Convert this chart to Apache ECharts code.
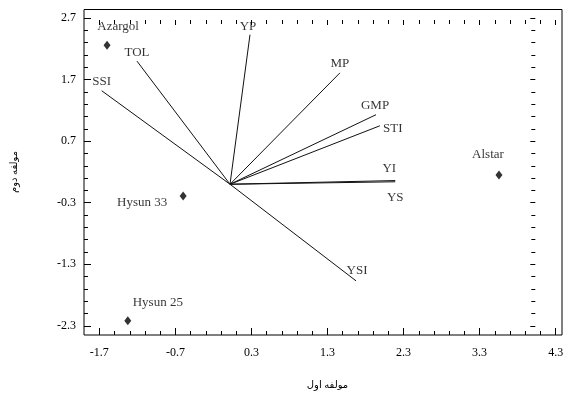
<!DOCTYPE html>
<html>
<head>
<meta charset="utf-8">
<script src="https://cdn.jsdelivr.net/npm/echarts@6/dist/echarts.min.js"></script>
<style>
  html, body { margin: 0; padding: 0; background: #fff; }
  #chart { width: 567px; height: 395px; }
</style>
</head>
<body>
<div id="chart"></div>
<script>
// traits drawn as vectors from the origin
const varNames = ['YP', 'MP', 'GMP', 'STI', 'YI', 'YS', 'YSI', 'TOL', 'SSI'];
const varX = [0.26, 1.43, 1.90, 1.95, 2.15, 2.15, 1.64, -1.21, -1.67];
const varY = [2.43, 1.81, 1.13, 0.95, 0.06, 0.04, -1.57, 2.00, 1.52];

// genotypes (diamonds)
const genNames = ['Azargol', 'Hysun 33', 'Hysun 25', 'Alstar'];
const genX = [-1.60, -0.61, -1.33, 3.50];
const genY = [2.26, -0.19, -2.22, 0.15];

// tick labels
const xTicks = [-1.7, -0.7, 0.3, 1.3, 2.3, 3.3, 4.3];
const yTicks = [-2.3, -1.3, -0.3, 0.7, 1.7, 2.7];

const xName = 'مولفه اول';
const yName = 'مولفه دوم';

// label placement (pixels, relative to the point)
const varLabelOffset = {
  YP: [-2, -8], MP: [0, -9], GMP: [-1, -9], STI: [13, 3], YI: [-6, -12],
  YS: [0, 16], YSI: [1, -10], TOL: [0, -9], SSI: [0, -9]
};
const genLabelOffset = {
  'Azargol': [11, -19], 'Hysun 33': [-41, 7], 'Hysun 25': [30, -18], 'Alstar': [-11, -20]
};

// plot frame
const W = 567, H = 395;
const L = 84, R = 562, T = 9.5, B = 335;
const xMin = -1.9, xMax = 4.32, yMin = -2.45, yMax = 2.84;
const sx = (R - L) / (xMax - xMin);
const sy = (B - T) / (yMax - yMin);
const px = (v) => L + (v - xMin) * sx;
const py = (v) => B - (v - yMin) * sy;

const xT0 = xTicks[0], xT1 = xTicks[xTicks.length - 1];
const yT0 = yTicks[0], yT1 = yTicks[yTicks.length - 1];

const FONT = '"Liberation Serif", "Times New Roman", serif';
const AR_FONT = '"Liberation Serif", "DejaVu Sans", serif';

// ticks only get drawn where the axis has labels, so the mirror axes keep invisible ones
const tickAxis = (extra) => Object.assign({
  type: 'value',
  interval: 1,
  axisLine: { show: false, onZero: false },
  axisTick: { show: true, inside: true, length: 7, lineStyle: { color: '#000', width: 1 } },
  minorTick: { show: true, splitNumber: 5, length: 4, lineStyle: { color: '#000', width: 1 } },
  splitLine: { show: false },
  minorSplitLine: { show: false },
  axisLabel: { show: true, color: 'rgba(0,0,0,0)', fontSize: 12, formatter: (v) => v.toFixed(1) }
}, extra);

const hiddenAxis = (extra) => Object.assign({
  type: 'value',
  axisLine: { show: false, onZero: false },
  axisTick: { show: false },
  axisLabel: { show: false },
  splitLine: { show: false }
}, extra);

const series = [];

varNames.forEach((n, i) => {
  series.push({
    type: 'line',
    xAxisIndex: 0,
    yAxisIndex: 0,
    data: [[0, 0], [varX[i], varY[i]]],
    showSymbol: false,
    symbol: 'none',
    silent: true,
    lineStyle: { color: '#111', width: 1 }
  });
});

series.push({
  type: 'scatter',
  xAxisIndex: 0,
  yAxisIndex: 0,
  symbolSize: 1,
  silent: true,
  itemStyle: { color: 'rgba(0,0,0,0)' },
  data: varNames.map((n, i) => ({
    value: [varX[i], varY[i]],
    label: {
      show: true,
      formatter: n,
      position: 'inside',
      offset: varLabelOffset[n],
      color: '#000',
      fontFamily: FONT,
      fontSize: 13
    }
  }))
});

series.push({
  type: 'scatter',
  xAxisIndex: 0,
  yAxisIndex: 0,
  symbol: 'diamond',
  symbolSize: [7, 9],
  silent: true,
  itemStyle: { color: '#000' },
  data: genNames.map((n, i) => ({
    value: [genX[i], genY[i]],
    label: {
      show: true,
      formatter: n,
      position: 'inside',
      offset: genLabelOffset[n],
      color: '#000',
      fontFamily: FONT,
      fontSize: 13
    }
  }))
});

const option = {
  animation: false,
  backgroundColor: '#fff',
  grid: [
    // data grid, drawn with a frame
    { left: L, right: W - R, top: T, bottom: H - B, show: true, borderColor: '#000', borderWidth: 1, backgroundColor: 'transparent' },
    // x tick axes: from first to last x tick, full height
    { left: px(xT0), right: W - px(xT1), top: T, bottom: H - B },
    // y tick axes: from first to last y tick, full width
    { left: L, right: W - R, top: py(yT1), bottom: H - py(yT0) }
  ],
  xAxis: [
    hiddenAxis({ gridIndex: 0, min: xMin, max: xMax }),
    tickAxis({
      gridIndex: 1, position: 'bottom', min: xT0, max: xT1,
      axisLabel: {
        show: true, margin: 12, color: '#000', fontFamily: FONT, fontSize: 12,
        formatter: (v) => v.toFixed(1)
      },
      name: xName, nameLocation: 'middle', nameGap: 45,
      nameTextStyle: { color: '#000', fontFamily: AR_FONT, fontSize: 10 }
    }),
    tickAxis({ gridIndex: 1, position: 'top', min: xT0, max: xT1,
      axisTick: { show: true, inside: true, length: 5, lineStyle: { color: '#000' } } }),
    hiddenAxis({ gridIndex: 2, min: xMin, max: xMax })
  ],
  yAxis: [
    hiddenAxis({ gridIndex: 0, min: yMin, max: yMax }),
    hiddenAxis({ gridIndex: 1, min: yMin, max: yMax }),
    tickAxis({
      gridIndex: 2, position: 'left', min: yT0, max: yT1,
      axisLabel: {
        show: true, margin: 8, color: '#000', fontFamily: FONT, fontSize: 12,
        formatter: (v) => v.toFixed(1)
      },
      name: yName, nameLocation: 'middle', nameGap: 65,
      nameTextStyle: { color: '#000', fontFamily: AR_FONT, fontSize: 10 }
    }),
    tickAxis({ gridIndex: 2, position: 'right', min: yT0, max: yT1,
      axisTick: { show: true, inside: true, length: 5, lineStyle: { color: '#000' } } })
  ],
  series: series
};

const chart = echarts.init(document.getElementById('chart'), null, { renderer: 'canvas' });
chart.setOption(option);
</script>
</body>
</html>
